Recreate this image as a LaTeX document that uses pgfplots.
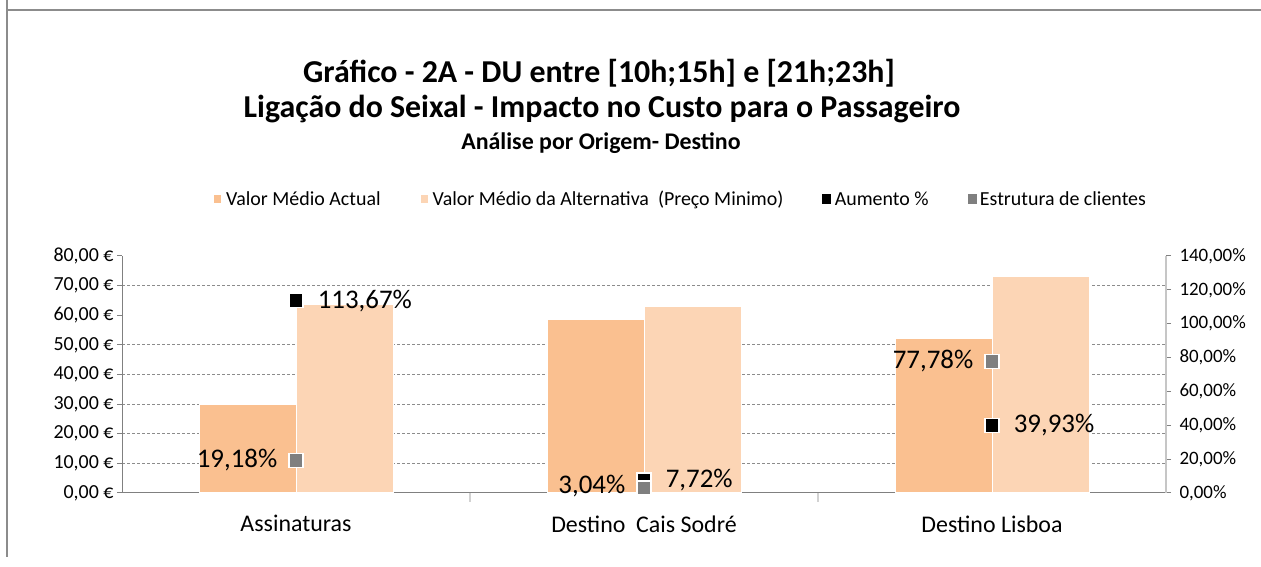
\documentclass[border=0pt]{standalone}
\usepackage{pgfplots}
\pgfplotsset{compat=1.18}
\usepackage{fontspec}
\setmainfont{Carlito}

\definecolor{actual}{HTML}{FAC090}
\definecolor{altern}{HTML}{FCD5B5}
\definecolor{estr}{HTML}{7F7F7F}
\definecolor{gridc}{HTML}{8C8C8C}

\newcommand{\fs}[1]{\fontsize{#1}{#1}\selectfont}

\pgfplotsset{chartbox/.style={
    at={(122bp,74bp)}, anchor=south west,
    scale only axis, width=1044bp, height=237bp,
    xmin=-0.5, xmax=2.5}}

\begin{document}
\begin{tikzpicture}[x=1bp,y=1bp]
\useasboundingbox (0,0) rectangle (1261,567);
% chart frame (only top and left edges are visible in the crop)
\draw[gray!90, line width=1.5bp] (7,600) -- (7,10) ;
\draw[gray!90, line width=1.5bp] (6,557) -- (1300,557);

% titles
\node[font=\bfseries\fs{32}] at (599,494) {Gráfico - 2A - DU entre [10h;15h] e [21h;23h]};
\node[font=\bfseries\fs{32}] at (602,458) {Ligação do Seixal - Impacto no Custo para o Passageiro};
\node[font=\bfseries\fs{24}] at (601,424) {Análise por Origem- Destino};

% grid lines only (as they show in the reference)
\begin{axis}[chartbox, ymin=0, ymax=80,
    axis line style={draw=none}, xtick=\empty,
    ytick={10,20,30,40,50,70}, yticklabels={}, major tick length=0bp,
    ymajorgrids, grid style={draw=gridc, dash pattern=on 3bp off 2bp, line width=0.8bp}]
\end{axis}

% left axis: average values (bars)
\begin{axis}[
    chartbox,
    ymin=0, ymax=80,
    axis y line*=left, axis x line*=bottom,
    axis line style={draw=gray, line width=1bp},
    xtick={0,1,2},
    xticklabels={Assinaturas, Destino\ \ Cais Sodré, Destino Lisboa},
    x tick label style={font=\fs{24}, yshift=-14bp},
    major x tick style={draw=none},
    extra x ticks={0.5,1.5}, extra x tick labels={},
    extra x tick style={tick align=outside, major tick length=9bp,
        major x tick style={draw=gray!35, line width=1.5bp}},
    ytick={0,10,...,80},
    yticklabels={{0,00 €},{10,00 €},{20,00 €},{30,00 €},{40,00 €},{50,00 €},{60,00 €},{70,00 €},{80,00 €}},
    y tick label style={font=\fs{20}},
    tick align=outside, major tick length=5bp,
    major y tick style={draw=gray, line width=1bp},
    ybar, bar width=97bp,
    legend style={at={(0.535,1.24)}, anchor=center, draw=none, fill=none,
        font=\fs{20}, legend columns=-1,
        /tikz/every odd column/.append style={column sep=2bp},
        /tikz/every even column/.append style={column sep=37bp}},
    legend image code/.code={\fill[#1] (0bp,-4bp) rectangle (8bp,5bp);},
]
\addplot[fill=actual, draw=white, line width=1bp, bar shift=-48.5bp]
    coordinates {(0,29.8) (1,58.4) (2,52.3)};
\addlegendentry{Valor Médio Actual}
\addplot[fill=altern, draw=white, line width=1bp, bar shift=48.5bp]
    coordinates {(0,63.7) (1,62.9) (2,73.2)};
\addlegendentry{Valor Médio da Alternativa\ \ (Preço Minimo)}
\addlegendimage{legend image code/.code={\fill[black] (0bp,-4bp) rectangle (8bp,5bp);}}
\addlegendentry{Aumento \%}
\addlegendimage{legend image code/.code={\fill[estr] (0bp,-4bp) rectangle (8bp,5bp);}}
\addlegendentry{Estrutura de clientes}
\end{axis}

% right axis: percentages (markers)
\begin{axis}[
    chartbox,
    ymin=0, ymax=140,
    axis x line=none, axis y line*=right,
    axis line style={draw=gray!45, line width=1.5bp},
    ytick={0,20,...,140},
    yticklabels={{0,00\%},{20,00\%},{40,00\%},{60,00\%},{80,00\%},{100,00\%},{120,00\%},{140,00\%}},
    y tick label style={font=\fs{19}, xshift=5bp},
    tick align=outside, major tick length=5bp,
    major y tick style={draw=gray, line width=1bp},
    point meta=explicit symbolic,
    clip=false,
]
\addplot[only marks, mark=square*, mark size=7bp,
    mark options={fill=black, draw=white, line width=1.5bp},
    nodes near coords, every node near coord/.style={anchor=west, xshift=21bp, inner sep=0pt, font=\fs{27}, text=black}]
    coordinates {(0,113.67) [113,67\%] (1,7.72) [7,72\%] (2,39.93) [39,93\%]};
\addplot[only marks, mark=square*, mark size=7bp,
    mark options={fill=estr, draw=white, line width=1.5bp},
    nodes near coords, every node near coord/.style={anchor=east, xshift=-18bp, inner sep=0pt, font=\fs{27}, text=black}]
    coordinates {(0,19.18) [19,18\%] (1,3.04) [\raisebox{7bp}{3,04\%}] (2,77.78) [77,78\%]};
\end{axis}
\end{tikzpicture}
\end{document}
